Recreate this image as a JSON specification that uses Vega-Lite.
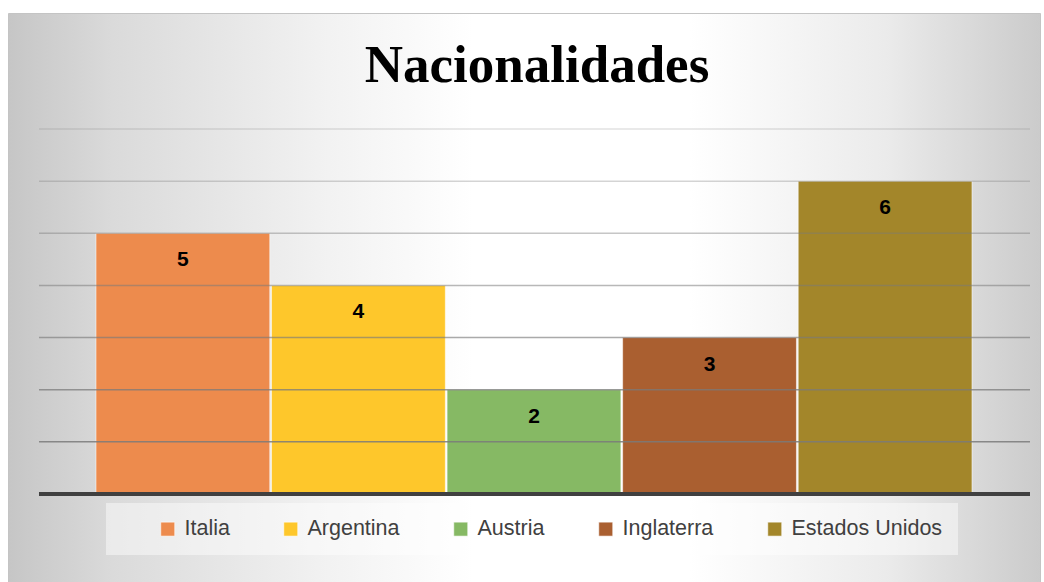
{
  "$schema": "https://vega.github.io/schema/vega-lite/v6.json",
  "width": 1032,
  "height": 569,
  "autosize": {"type": "none"},
  "padding": {"left": 8, "top": 13, "right": 4, "bottom": 0},
  "background": "#ffffff",
  "view": {
    "fill": {
      "gradient": "linear",
      "x1": 0, "y1": 0, "x2": 1, "y2": 0,
      "stops": [
        {"offset": 0, "color": "#c6c6c6"},
        {"offset": 0.1, "color": "#dadada"},
        {"offset": 0.3, "color": "#f1f1f1"},
        {"offset": 0.45, "color": "#ffffff"},
        {"offset": 0.66, "color": "#ffffff"},
        {"offset": 0.85, "color": "#ebebeb"},
        {"offset": 1, "color": "#cbcbcb"}
      ]
    },
    "stroke": "#c4c4c4"
  },
  "title": {
    "text": "Nacionalidades",
    "font": "Liberation Serif",
    "fontSize": 53,
    "fontWeight": "bold",
    "color": "#000000",
    "offset": -80,
    "dx": 13
  },
  "datasets": {
    "bars": [
      {"pais": "Italia", "valor": 5},
      {"pais": "Argentina", "valor": 4},
      {"pais": "Austria", "valor": 2},
      {"pais": "Inglaterra", "valor": 3},
      {"pais": "Estados Unidos", "valor": 6}
    ],
    "grid": [{"v": 1}, {"v": 2}, {"v": 3}, {"v": 4}, {"v": 5}, {"v": 6}, {"v": 7}],
    "base": [{"v": 0}]
  },
  "layer": [
    {
      "data": {"name": "bars"},
      "mark": {"type": "bar", "stroke": "#ffffff", "strokeOpacity": 0.55, "strokeWidth": 1},
      "encoding": {
        "x": {
          "field": "pais", "type": "nominal",
          "sort": ["Italia", "Argentina", "Austria", "Inglaterra", "Estados Unidos"],
          "scale": {"type": "band", "paddingInner": 0.01, "paddingOuter": 0.4443, "align": 0.564},
          "axis": null
        },
        "y": {
          "field": "valor", "type": "quantitative",
          "scale": {"domain": [-1.6877, 9.2247], "nice": false, "zero": false},
          "axis": null
        },
        "y2": {"datum": 0},
        "color": {
          "field": "pais", "type": "nominal",
          "scale": {
            "domain": ["Italia", "Argentina", "Austria", "Inglaterra", "Estados Unidos"],
            "range": ["#ED8B4D", "#FEC72B", "#86B964", "#AA5F30", "#A3862A"]
          },
          "legend": {
            "orient": "none",
            "legendX": 98,
            "legendY": 490,
            "direction": "horizontal",
            "title": " ",
            "titleOrient": "left",
            "titlePadding": 36,
            "titleFontSize": 22,
            "padding": 15,
            "fillColor": "rgba(255,255,255,0.45)",
            "symbolType": "square",
            "symbolSize": 196,
            "symbolStrokeWidth": 1,
            "symbolStrokeColor": "rgba(255,255,255,0.6)",
            "symbolOpacity": 1,
            "labelFont": "Liberation Sans",
            "labelFontSize": 21.5,
            "labelColor": "#404040",
            "labelOffset": 6,
            "columnPadding": 50,
            "labelLimit": 300
          }
        }
      }
    },
    {
      "data": {"name": "grid"},
      "mark": {"type": "rule", "color": "#7a7a7a", "strokeWidth": 1.5},
      "encoding": {
        "y": {
          "field": "v", "type": "quantitative",
          "scale": {"domain": [-1.6877, 9.2247], "nice": false, "zero": false},
          "axis": null
        },
        "x": {
          "datum": 0, "type": "quantitative",
          "scale": {"domain": [-0.03128, 1.01009], "nice": false, "zero": false},
          "axis": null
        },
        "x2": {"datum": 1},
        "opacity": {
          "field": "v", "type": "quantitative",
          "scale": {"domain": [1, 7], "range": [0.85, 0.22]},
          "legend": null
        }
      }
    },
    {
      "data": {"name": "base"},
      "mark": {"type": "rule", "color": "#404040", "strokeWidth": 4},
      "encoding": {
        "y": {
          "field": "v", "type": "quantitative",
          "scale": {"domain": [-1.6877, 9.2247], "nice": false, "zero": false},
          "axis": null
        },
        "x": {
          "datum": 0, "type": "quantitative",
          "scale": {"domain": [-0.03128, 1.01009], "nice": false, "zero": false},
          "axis": null
        },
        "x2": {"datum": 1}
      }
    },
    {
      "data": {"name": "bars"},
      "mark": {"type": "text", "font": "Liberation Sans", "fontSize": 21, "fontWeight": "bold", "color": "#000000", "dy": 27, "baseline": "middle"},
      "encoding": {
        "x": {
          "field": "pais", "type": "nominal",
          "sort": ["Italia", "Argentina", "Austria", "Inglaterra", "Estados Unidos"],
          "scale": {"type": "band", "paddingInner": 0.01, "paddingOuter": 0.4443, "align": 0.564},
          "axis": null
        },
        "y": {
          "field": "valor", "type": "quantitative",
          "scale": {"domain": [-1.6877, 9.2247], "nice": false, "zero": false},
          "axis": null
        },
        "text": {"field": "valor", "type": "quantitative"}
      }
    }
  ],
  "resolve": {"scale": {"x": "independent"}}
}
